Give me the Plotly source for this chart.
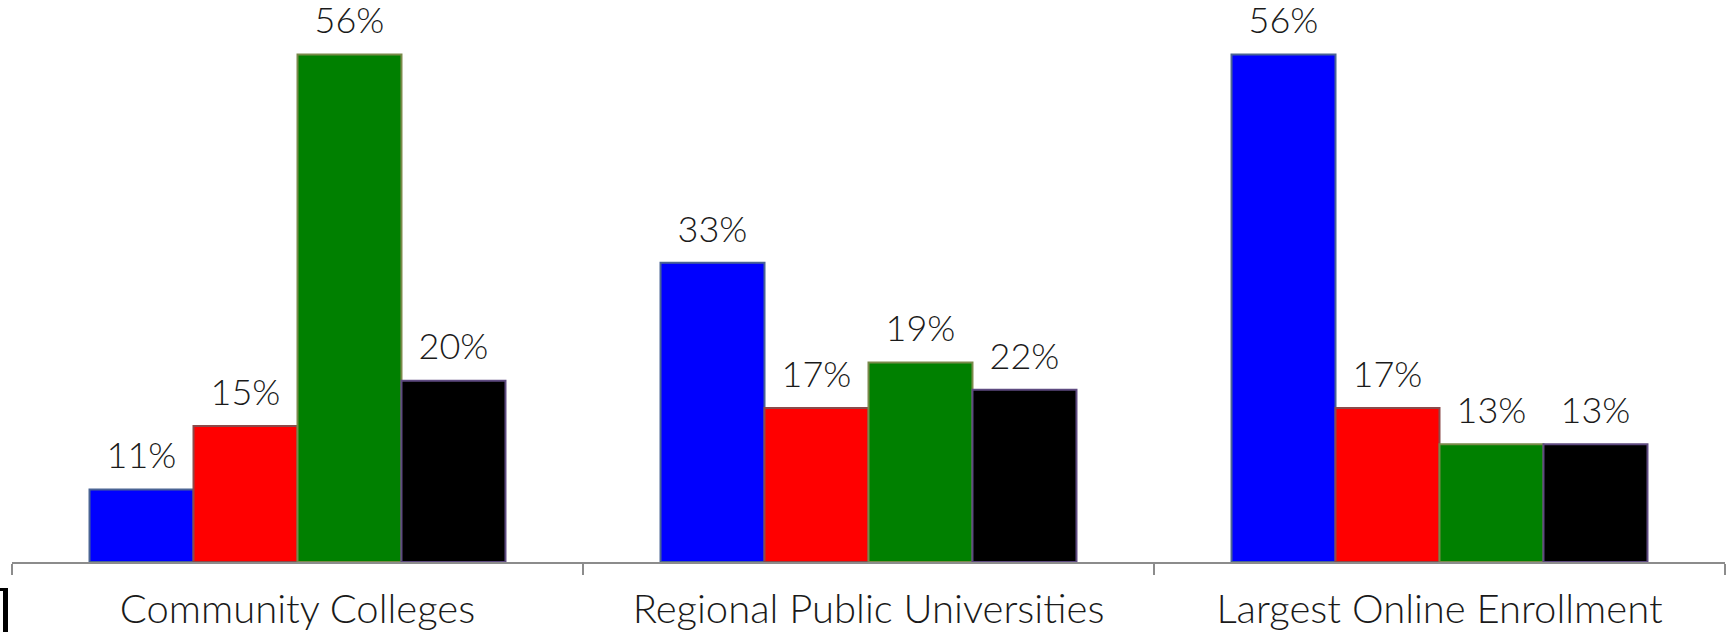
import plotly.graph_objects as go

categories = ["Community Colleges", "Regional Public Universities", "Largest Online Enrollment"]

series_names = ["Series 1", "Series 2", "Series 3", "Series 4"]
blue_values = [8, 33, 56]
red_values = [15, 17, 17]
green_values = [56, 22, 13]
black_values = [20, 19, 13]

blue_labels = ["11%", "33%", "56%"]
red_labels = ["15%", "17%", "17%"]
green_labels = ["56%", "19%", "13%"]
black_labels = ["20%", "22%", "13%"]

fill_colors = ["#0000FF", "#FF0000", "#008000", "#000000"]
edge_colors = ["#4A6494", "#8C4A4A", "#7A8A4A", "#5E4A80"]

values = [blue_values, red_values, green_values, black_values]
labels = [blue_labels, red_labels, green_labels, black_labels]

FONT = "Lato"
W, H = 1732, 632
ML, MR, MT, MB = 12, 7, 0, 70
GAP = 0.2715

fig = go.Figure()
for i in range(4):
    fig.add_trace(go.Bar(
        x=categories, y=values[i], name=series_names[i],
        marker=dict(color=fill_colors[i], line=dict(color=edge_colors[i], width=2)),
        offsetgroup=str(i), showlegend=False, hoverinfo="skip",
    ))
for i in range(4):
    fig.add_trace(go.Scatter(
        x=categories, y=values[i], text=labels[i], mode="markers+text",
        textposition="top center",
        marker=dict(size=18, opacity=0, color=fill_colors[i]),
        textfont=dict(family=FONT, size=36, color="#1a1a1a", weight=300),
        offsetgroup=str(i), showlegend=False, hoverinfo="skip", cliponaxis=False,
    ))

# small black bracket fragment in the lower-left corner
pw = W - ML - MR
ph = H - MT - MB
def px(x):
    return (x - ML) / pw
def py(y):
    return (H - MB - y) / ph
path = (f"M {px(0)},{py(588)} L {px(8)},{py(588)} L {px(8)},{py(632)} "
        f"L {px(3)},{py(632)} L {px(3)},{py(591)} L {px(0)},{py(591)} Z")

fig.update_layout(
    template="none",
    width=W, height=H,
    margin=dict(l=ML, r=MR, t=MT, b=MB, pad=0, autoexpand=False),
    barmode="group", bargap=GAP, bargroupgap=0,
    scattermode="group", scattergap=GAP,
    plot_bgcolor="white", paper_bgcolor="white",
    showlegend=False,
    shapes=[dict(type="path", xref="paper", yref="paper", path=path,
                 fillcolor="black", line=dict(width=0))],
    xaxis=dict(
        automargin=False,
        showline=True, linecolor="#8C8C8C", linewidth=2,
        ticks="outside", tickson="boundaries", ticklen=11, tickwidth=2, tickcolor="#8C8C8C",
        tickfont=dict(family=FONT, size=40, color="#1a1a1a", weight=300),
        ticklabelstandoff=11,
        showgrid=False, zeroline=False,
    ),
    yaxis=dict(automargin=False, range=[0, 62], visible=False, showgrid=False, zeroline=False),
)

fig.write_html(
    "out.html",
    config={"displayModeBar": False},
    post_script="document.body.style.margin='0';document.body.style.overflow='hidden';",
)
